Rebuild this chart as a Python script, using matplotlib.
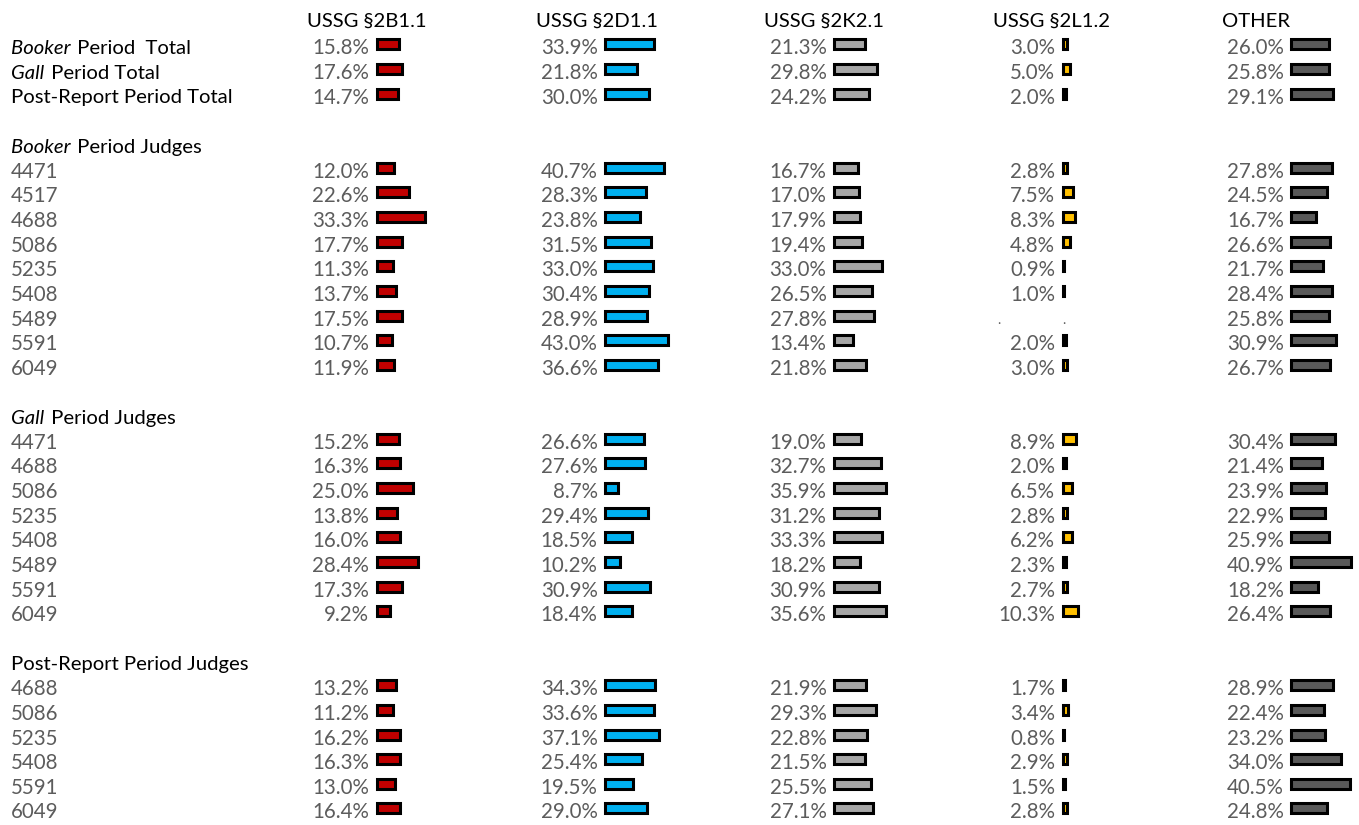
import numpy as np
import matplotlib
matplotlib.use('Agg')
from matplotlib import pyplot as plt

# column headers and bar colours
columns = ['USSG §2B1.1', 'USSG §2D1.1', 'USSG §2K2.1', 'USSG §2L1.2', 'OTHER']
colors = ['#C00000', '#00B0F0', '#A6A6A6', '#FFC000', '#595959']

# period totals
total_labels = [('Booker', ' Period  Total'), ('Gall', ' Period Total'), ('', 'Post-Report Period Total')]
total_vals = [
    [15.8, 33.9, 21.3, 3.0, 26.0],
    [17.6, 21.8, 29.8, 5.0, 25.8],
    [14.7, 30.0, 24.2, 2.0, 29.1],
]

# Booker period judges
booker_judges = ['4471', '4517', '4688', '5086', '5235', '5408', '5489', '5591', '6049']
booker_vals = [
    [12.0, 40.7, 16.7, 2.8, 27.8],
    [22.6, 28.3, 17.0, 7.5, 24.5],
    [33.3, 23.8, 17.9, 8.3, 16.7],
    [17.7, 31.5, 19.4, 4.8, 26.6],
    [11.3, 33.0, 33.0, 0.9, 21.7],
    [13.7, 30.4, 26.5, 1.0, 28.4],
    [17.5, 28.9, 27.8, None, 25.8],
    [10.7, 43.0, 13.4, 2.0, 30.9],
    [11.9, 36.6, 21.8, 3.0, 26.7],
]

# Gall period judges
gall_judges = ['4471', '4688', '5086', '5235', '5408', '5489', '5591', '6049']
gall_vals = [
    [15.2, 26.6, 19.0, 8.9, 30.4],
    [16.3, 27.6, 32.7, 2.0, 21.4],
    [25.0, 8.7, 35.9, 6.5, 23.9],
    [13.8, 29.4, 31.2, 2.8, 22.9],
    [16.0, 18.5, 33.3, 6.2, 25.9],
    [28.4, 10.2, 18.2, 2.3, 40.9],
    [17.3, 30.9, 30.9, 2.7, 18.2],
    [9.2, 18.4, 35.6, 10.3, 26.4],
]

# post-report period judges
post_judges = ['4688', '5086', '5235', '5408', '5591', '6049']
post_vals = [
    [13.2, 34.3, 21.9, 1.7, 28.9],
    [11.2, 33.6, 29.3, 3.4, 22.4],
    [16.2, 37.1, 22.8, 0.8, 23.2],
    [16.3, 25.4, 21.5, 2.9, 34.0],
    [13.0, 19.5, 25.5, 1.5, 40.5],
    [16.4, 29.0, 27.1, 2.8, 24.8],
]

sections = [
    (('Booker', ' Period Judges'), booker_judges, booker_vals),
    (('Gall', ' Period Judges'), gall_judges, gall_vals),
    (('', 'Post-Report Period Judges'), post_judges, post_vals),
]

plt.rcParams['font.family'] = ['Lato', 'DejaVu Sans']

W, H = 1359, 825
fig = plt.figure(figsize=(W / 100, H / 100), dpi=100)
ax = fig.add_axes([0, 0, 1, 1])
ax.set_xlim(0, W)
ax.set_ylim(H, 0)
ax.axis('off')

row0 = 23.85
step = 24.645
head_y = 21.5
col_x0 = 307
col_dx = 228.7
num_right = 369
bar_left = 376.5
scale = 1.45
fs_lab = 14.6
fs_num = 14.8
gray = '#5c5c5c'

fig.canvas.draw()
renderer = fig.canvas.get_renderer()


def row_label(y, parts, color='black'):
    ital, rest = parts
    x = 11
    if ital:
        t = ax.text(x, y, ital, fontsize=fs_lab, style='italic', va='center', color=color)
        bb = t.get_window_extent(renderer)
        x = bb.x1 + 1.5  # italic overhang
    ax.text(x, y, rest, fontsize=fs_lab, va='center', color=color)


def value_row(y, vals):
    for j, v in enumerate(vals):
        if v is None:
            # empty cell: only two stray dots in the original
            ax.text(num_right + j * col_dx - 58, y, '.', fontsize=10, color=gray, va='center')
            ax.text(bar_left + j * col_dx, y, '.', fontsize=10, color=gray, va='center')
            continue
        ax.text(num_right + j * col_dx, y, f'{v:.1f}%', fontsize=fs_num,
                color=gray, ha='right', va='center')
        ax.barh(y - 4, v * scale, left=bar_left + j * col_dx, height=10,
                color=colors[j], edgecolor='black', linewidth=2.2)


for j, c in enumerate(columns):
    ax.text(col_x0 + j * col_dx, head_y, c, fontsize=fs_lab, va='center', color='black')

r = 1
for lab, vals in zip(total_labels, total_vals):
    y = row0 + r * step
    row_label(y, lab)
    value_row(y, vals)
    r += 1

for head, judges, vals in sections:
    r += 1
    row_label(row0 + r * step, head)
    r += 1
    for jd, v in zip(judges, vals):
        y = row0 + r * step
        ax.text(11, y, jd, fontsize=fs_num, color=gray, va='center')
        value_row(y, v)
        r += 1

fig.savefig('out.png', dpi=100)
